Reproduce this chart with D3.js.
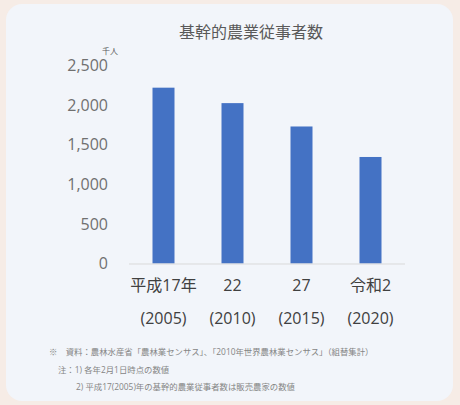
<!DOCTYPE html>
<html>
<head>
<meta charset="utf-8">
<script src="https://cdn.jsdelivr.net/npm/d3@7"></script>
<style>
  html, body { margin: 0; padding: 0; background: #f6ece6; }
  svg { display: block; font-family: "Open Sans", "Noto Sans CJK JP", sans-serif; }
</style>
</head>
<body>
<div id="chart"></div>
<script>
// values (thousand persons)
var yearLabels = ["平成17年", "22", "27", "令和2"];
var westernYears = ["(2005)", "(2010)", "(2015)", "(2020)"];
var workers = [2220, 2025, 1730, 1345];
var yTicks = [0, 500, 1000, 1500, 2000, 2500];
var notes = [
    "※　資料：農林水産省「農林業センサス」、「2010年世界農林業センサス」（組替集計）",
    "注：1) 各年2月1日時点の数値",
    "2) 平成17(2005)年の基幹的農業従事者数は販売農家の数値"
];

var width = 460, height = 405;
var margin = {top: 65.5, right: 55, left: 129};

var svg = d3.select("#chart").append("svg")
    .attr("width", width)
    .attr("height", height);

// card behind the chart
svg.append("rect")
    .attr("x", 6).attr("y", 4)
    .attr("width", 447).attr("height", 397)
    .attr("rx", 16)
    .attr("fill", "#f2f5fa");

// title
svg.append("text")
    .attr("x", 251).attr("y", 32)
    .attr("dy", "0.35em")
    .attr("text-anchor", "middle")
    .attr("font-size", 16)
    .attr("font-family", "\"Noto Sans CJK JP\", sans-serif")
    .attr("fill", "#595959")
    .text("基幹的農業従事者数");

// unit
svg.append("text")
    .attr("x", 110).attr("y", 51)
    .attr("dy", "0.35em")
    .attr("text-anchor", "middle")
    .attr("font-size", 8)
    .attr("font-family", "\"Noto Sans CJK JP\", sans-serif")
    .attr("fill", "#595959")
    .text("千人");

var x = d3.scaleBand()
    .domain(yearLabels)
    .range([margin.left, width - margin.right])
    .padding(0);

var y = d3.scaleLinear()
    .domain([0, 2500])
    .range([263.5, margin.top]);

var barWidth = 22;

// bars
svg.append("g")
    .selectAll("rect")
    .data(workers)
    .enter().append("rect")
    .attr("x", function(d, i) { return x(yearLabels[i]) + x.bandwidth() / 2 - barWidth / 2; })
    .attr("y", function(d) { return y(d); })
    .attr("width", barWidth)
    .attr("height", function(d) { return y(0) - y(d); })
    .attr("fill", "#4472c4");

// baseline
svg.append("line")
    .attr("x1", x.range()[0]).attr("x2", x.range()[1])
    .attr("y1", y(0) + 0.5).attr("y2", y(0) + 0.5)
    .attr("stroke", "#d9d9d9")
    .attr("stroke-width", 1);

// y axis labels, no line
var yAxis = svg.append("g")
    .attr("transform", "translate(108,0)")
    .call(d3.axisLeft(y).tickValues(yTicks).tickSize(0).tickPadding(0).tickFormat(d3.format(",")));
yAxis.select(".domain").remove();
yAxis.selectAll("text")
    .attr("font-size", 16)
    .attr("font-family", "\"Open Sans\", sans-serif")
    .attr("fill", "#707070");

// x axis labels, two lines
var xLabels = svg.append("g")
    .selectAll("g")
    .data(yearLabels)
    .enter().append("g")
    .attr("transform", function(d) { return "translate(" + (x(d) + x.bandwidth() / 2) + ",0)"; });

xLabels.append("text")
    .attr("y", 285)
    .attr("dy", "0.35em")
    .attr("text-anchor", "middle")
    .attr("font-size", 16)
    .attr("fill", "#404040")
    .text(function(d) { return d; });

xLabels.append("text")
    .attr("y", 318)
    .attr("dy", "0.35em")
    .attr("text-anchor", "middle")
    .attr("font-size", 16)
    .attr("fill", "#404040")
    .text(function(d, i) { return westernYears[i]; });

// footnotes
var noteX = [49, 58, 76];
var noteY = [352, 370, 387];
svg.append("g")
    .selectAll("text")
    .data(notes)
    .enter().append("text")
    .attr("x", function(d, i) { return noteX[i]; })
    .attr("y", function(d, i) { return noteY[i]; })
    .attr("dy", "0.35em")
    .attr("font-size", 8.4)
    .attr("fill", "#858585")
    .text(function(d) { return d; });
</script>
</body>
</html>
